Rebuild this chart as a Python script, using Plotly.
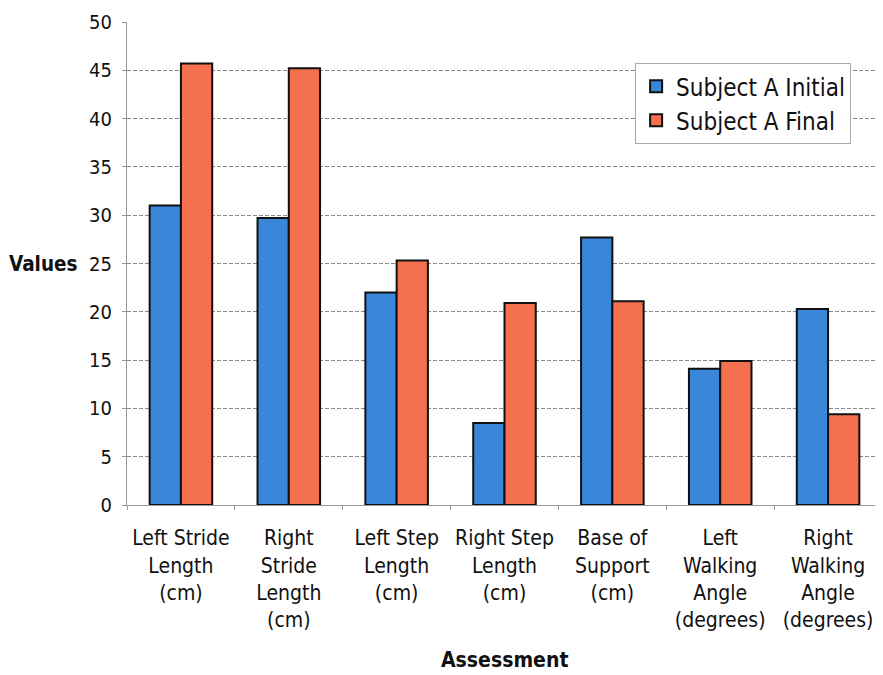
import plotly.graph_objects as go

categories = [
    "Left Stride<br>Length<br>(cm)",
    "Right<br>Stride<br>Length<br>(cm)",
    "Left Step<br>Length<br>(cm)",
    "Right Step<br>Length<br>(cm)",
    "Base of<br>Support<br>(cm)",
    "Left<br>Walking<br>Angle<br>(degrees)",
    "Right<br>Walking<br>Angle<br>(degrees)",
]
initial_values = [31.0, 29.7, 22.0, 8.5, 27.7, 14.1, 20.3]
final_values = [45.7, 45.2, 25.3, 20.9, 21.1, 14.9, 9.4]
series_names = ["Subject A Initial", "Subject A Final"]
y_ticks = [0, 5, 10, 15, 20, 25, 30, 35, 40, 45, 50]

FONT = "DejaVu Sans Condensed, DejaVu Sans, Verdana, sans-serif"
BLUE = "#3a86d8"
ORANGE = "#f4704e"

fig = go.Figure()
fig.add_trace(go.Bar(x=categories, y=initial_values, name=series_names[0],
                     marker=dict(color=BLUE, line=dict(color="#111111", width=2))))
fig.add_trace(go.Bar(x=categories, y=final_values, name=series_names[1],
                     marker=dict(color=ORANGE, line=dict(color="#111111", width=2))))

fig.update_layout(
    width=883, height=675,
    margin=dict(l=119, r=9, t=14, b=178),
    paper_bgcolor="white", plot_bgcolor="white",
    barmode="group", bargap=0.42, bargroupgap=0,
    font=dict(family=FONT, color="#111111", size=20),
    showlegend=True,
    legend=dict(x=0.673, y=0.915, xanchor="left", yanchor="top",
                bordercolor="#aaaaaa", borderwidth=1, bgcolor="white",
                font=dict(size=24, family=FONT), traceorder="normal",
                itemsizing="constant"),
    xaxis=dict(showline=True, linecolor="#999999", linewidth=1,
               ticks="outside", tickson="boundaries", ticklen=4, tickcolor="#999999",
               tickfont=dict(size=21, family=FONT), showgrid=False, automargin=False,
               ticklabelstandoff=14),
    yaxis=dict(range=[0, 50], tickvals=y_ticks, showline=True, linecolor="#999999",
               linewidth=1, ticks="outside", ticklen=4, tickcolor="#999999",
               showgrid=True, gridcolor="#8a8a8a", griddash="4px,2px", gridwidth=1,
               tickfont=dict(size=20, family=FONT), zeroline=False,
               ticklabelstandoff=6, automargin=False, ticklabeloverflow="allow"),
    annotations=[
        dict(text="<b>Values</b>", xref="paper", yref="paper", x=-0.062, y=0.5,
             xanchor="right", yanchor="middle", showarrow=False,
             font=dict(size=20.5, family=FONT)),
        dict(text="<b>Assessment</b>", xref="paper", yref="paper", x=0.5, y=-0.321,
             xanchor="center", yanchor="middle", showarrow=False,
             font=dict(size=21, family=FONT)),
    ],
)

fig.write_html("out.html")
